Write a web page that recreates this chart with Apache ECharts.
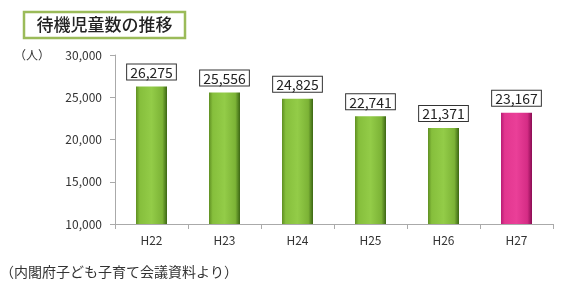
<!DOCTYPE html>
<html><head><meta charset="utf-8">
<script src="https://cdn.jsdelivr.net/npm/echarts@6/dist/echarts.min.js"></script>
<style>html,body{margin:0;padding:0;background:#fff}#c{width:572px;height:292px}</style>
</head><body><div id="c"></div>
<script>
const categories = ['H22','H23','H24','H25','H26','H27'];
const values = [26275, 25556, 24825, 22741, 21371, 23167];
const yTicks = [10000, 15000, 20000, 25000, 30000];
const titleText = '待機児童数の推移';
const unitText = '（人）';
const sourceText = '（内閣府子ども子育て会議資料より）';

const FONT = '"Noto Sans CJK JP", "Noto Sans", sans-serif';
const green = new echarts.graphic.LinearGradient(0,0,1,0,[
  {offset:0, color:'#5f8f22'},{offset:0.12, color:'#86bf3c'},{offset:0.5, color:'#93cc48'},
  {offset:0.85, color:'#7cb336'},{offset:1, color:'#3c6614'}]);
const pink = new echarts.graphic.LinearGradient(0,0,1,0,[
  {offset:0, color:'#b81c74'},{offset:0.12, color:'#e2368f'},{offset:0.5, color:'#ea3f98'},
  {offset:0.85, color:'#d52c85'},{offset:1, color:'#8a0c52'}]);

const chart = echarts.init(document.getElementById('c'));
chart.setOption({
  animation:false,
  textStyle:{fontFamily:FONT},
  grid:{left:115, right:19, top:55, bottom:68},
  graphic:[
    {type:'rect', shape:{x:24,y:12,width:161,height:26}, style:{fill:'#fff', stroke:'#9bbb59', lineWidth:2.5}},
    {type:'text', x:104.5, y:25, style:{text:titleText, font:'500 17px '+FONT, fill:'#222', align:'center', verticalAlign:'middle'}},
    {type:'text', x:14, y:55, style:{text:unitText, font:'12px '+FONT, fill:'#333', verticalAlign:'middle'}},
    {type:'text', x:0, y:272, style:{text:sourceText, font:'14px '+FONT, fill:'#333', verticalAlign:'middle'}}
  ],
  xAxis:{type:'category', data:categories,
    axisLine:{lineStyle:{color:'#aaa'}},
    axisTick:{show:true, length:5, lineStyle:{color:'#aaa'}},
    axisLabel:{color:'#333', fontSize:12, margin:10, fontFamily:FONT}},
  yAxis:{type:'value', min:yTicks[0], max:yTicks[yTicks.length-1], interval:5000,
    axisLine:{show:true, lineStyle:{color:'#aaa'}},
    axisTick:{show:true, length:5, lineStyle:{color:'#aaa'}},
    splitLine:{show:false},
    axisLabel:{color:'#333', fontSize:12, margin:13, fontFamily:FONT,
      formatter:v=>v.toLocaleString('en-US')}},
  series:[{type:'bar', barWidth:31,
    data: values.map((v,i)=>({value:v, itemStyle:{color: i===values.length-1 ? pink : green}})),
    label:{show:true, position:'top', distance:7, color:'#222', fontSize:14, fontFamily:FONT,
      backgroundColor:'#fff', borderColor:'#333', borderWidth:1, padding:[1,3,0,3],
      formatter:p=>p.value.toLocaleString('en-US')}
  }]
});
</script></body></html>
